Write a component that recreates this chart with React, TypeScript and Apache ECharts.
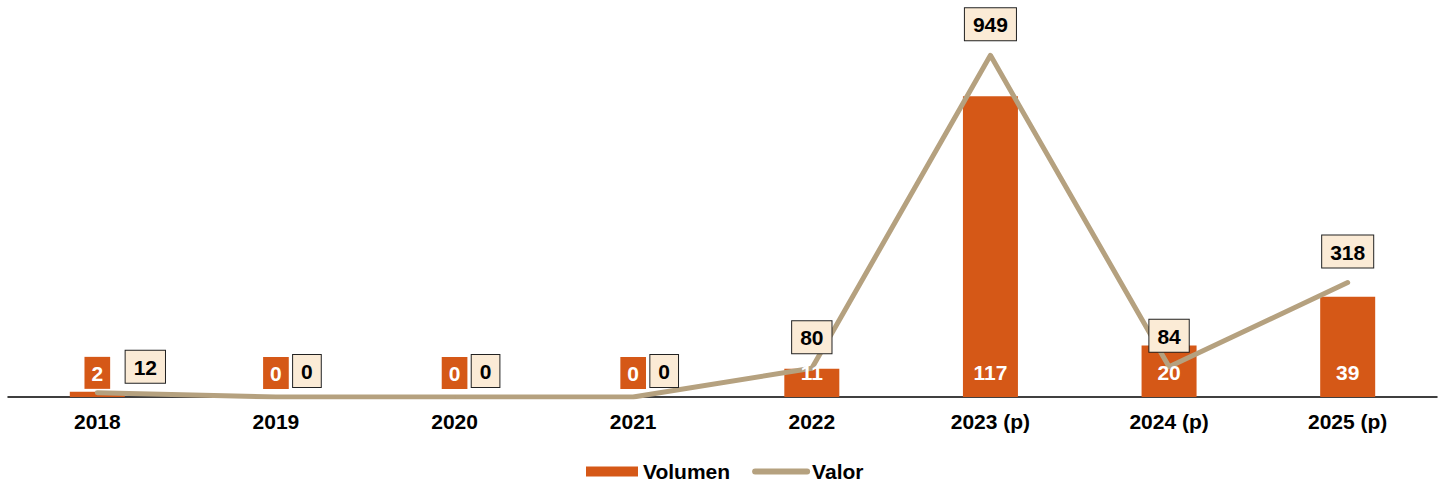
import React, { useEffect, useRef } from "react";
import * as echarts from "echarts";

const categories = ["2018", "2019", "2020", "2021", "2022", "2023 (p)", "2024 (p)", "2025 (p)"];
const volumen = [2, 0, 0, 0, 11, 117, 20, 39];
const valor = [12, 0, 0, 0, 80, 949, 84, 318];

const ORANGE = "#D55817";
const TAN = "#B5A17F";
const BEIGE = "#FBEBD6";
const FONT = "'Liberation Sans', Arial, sans-serif";

export default function App() {
  const ref = useRef<HTMLDivElement>(null);
  useEffect(() => {
    if (!ref.current) return;
    const chart = echarts.init(ref.current, null, { renderer: "svg" });
    const labelData = volumen.map((v) => {
      if (v < 5) {
        return {
          value: v,
          label: {
            show: true,
            position: "top",
            distance: v === 0 ? 8 : 3,
            backgroundColor: ORANGE,
            color: "#fff",
            padding: [6, 7, 5, 7],
          },
        };
      }
      return { value: v };
    });
    const lineData = valor.map((v, i) => {
      if (i === 0) {
        return { value: v, label: { offset: [48, 0], distance: 9 } };
      }
      if (v === 0) {
        return { value: v, label: { offset: [31, 0], distance: 9 } };
      }
      return { value: v };
    });
    chart.setOption({
      animation: false,
      textStyle: { fontFamily: FONT },
      grid: { left: 8, right: 5, top: 37, bottom: 86, containLabel: false },
      legend: {
        left: 586,
        top: 461,
        padding: 0,
        itemWidth: 52,
        itemHeight: 10,
        itemGap: 22,
        textStyle: { fontFamily: FONT, fontSize: 21, fontWeight: "bold", color: "#000" },
        data: [
          { name: "Volumen", icon: "rect" },
          {
            name: "Valor",
            itemStyle: { opacity: 0 },
            lineStyle: { width: 6, cap: "round", color: TAN },
          },
        ],
      },
      xAxis: {
        type: "category",
        data: categories,
        axisLine: { show: true, lineStyle: { color: "#000", width: 1.5 } },
        axisTick: { show: false },
        axisLabel: {
          color: "#000",
          fontFamily: FONT,
          fontSize: 21,
          fontWeight: "bold",
          margin: 14,
        },
      },
      yAxis: [
        { type: "value", min: 0, max: 140, show: false, splitLine: { show: false } },
        { type: "value", min: 0, max: 1000, show: false, splitLine: { show: false } },
      ],
      series: [
        {
          name: "Volumen",
          type: "bar",
          yAxisIndex: 0,
          data: volumen,
          barWidth: 55,
          itemStyle: { color: ORANGE },
          z: 2,
          label: { show: false },
        },
        {
          name: "Valor",
          type: "line",
          yAxisIndex: 1,
          data: lineData,
          symbol: "circle",
          symbolSize: 2,
          showSymbol: true,
          showAllSymbol: true,
          itemStyle: { color: TAN },
          color: TAN,
          lineStyle: { color: TAN, width: 5, cap: "round", join: "round" },
          z: 3,
          label: {
            show: true,
            position: "top",
            distance: 14,
            color: "#000",
            fontFamily: FONT,
            fontSize: 21,
            fontWeight: "bold",
            backgroundColor: BEIGE,
            borderColor: "#222",
            borderWidth: 1,
            padding: [6, 8, 5, 8],
          },
        },
        {
          name: "VolumenLabels",
          type: "bar",
          yAxisIndex: 0,
          data: labelData,
          barWidth: 55,
          barGap: "-100%",
          silent: true,
          itemStyle: { color: "rgba(0,0,0,0)" },
          z: 4,
          label: {
            show: true,
            position: "insideBottom",
            distance: 14,
            color: "#fff",
            fontFamily: FONT,
            fontSize: 21,
            fontWeight: "bold",
          },
        },
      ],
    });
    return () => chart.dispose();
  }, []);
  return (
    <div
      ref={ref}
      style={{ position: "fixed", left: 0, top: 0, width: 1442, height: 483, background: "#fff" }}
    />
  );
}
